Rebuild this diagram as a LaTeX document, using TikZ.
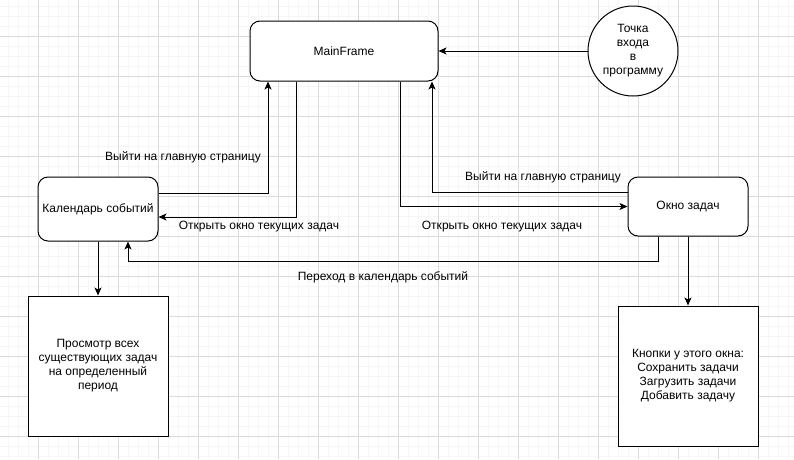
\documentclass[tikz,border=0pt]{standalone}
\usepackage{fontspec}
\setmainfont{Liberation Sans}
\usetikzlibrary{arrows.meta}
\tikzstyle{window} = [
  draw=black,
  fill=white,
  line width=1pt,
  rounded corners=10pt,
  align=center,
]
\tikzstyle{note} = [
  draw=black,
  fill=white,
  line width=1pt,
  minimum width=140pt,
  minimum height=140pt,
  align=center,
]
\tikzstyle{link} = [
  line width=1pt,
  -{Stealth[length=8pt,width=7pt,inset=2pt]},
]
\tikzstyle{gridminor} = [gray!7, line width=0.6pt]
\tikzstyle{gridmajor} = [gray!28, line width=0.8pt]

\begin{document}
\begin{tikzpicture}[
      x=1pt, y=-1pt,
      every node/.style={font=\fontsize{12}{14}\selectfont}
    ]
      \useasboundingbox (0,0) rectangle (794,459);
      \fill[white] (0,0) rectangle (794,459);

      % Grid
      \foreach \x in {8,18,...,788} \draw[gridminor] (\x,0) -- (\x,459);
      \foreach \y in {6,16,...,456} \draw[gridminor] (0,\y) -- (794,\y);
      \foreach \x in {38,78,...,778} \draw[gridmajor] (\x,0) -- (\x,459);
      \foreach \y in {36,76,...,436} \draw[gridmajor] (0,\y) -- (794,\y);

      % Windows
      \node[window, minimum width=188pt, minimum height=60pt] (main) at (344,51) {MainFrame};
      \node[window, minimum width=120pt, minimum height=64pt] (calendar) at (98,209) {Календарь событий};
      \node[window, minimum width=120pt, minimum height=59pt] (tasks) at (688,206.5) {Окно задач};
      \node[draw=black, fill=white, line width=1pt, circle, minimum size=90pt, inner sep=0pt, align=center] (entry) at (633,51) {Точка\\входа\\в\\программу};

      % Notes
      \node[note] (period) at (98,366) {Просмотр всех\\существующих задач\\на определенный\\период};
      \node[note] (buttons) at (688,376) {Кнопки у этого окна:\\Сохранить задачи\\Загрузить задачи\\Добавить задачу};

      % Links
      \draw[link] (entry.west) -- (main.east);
      \draw[link] ([yshift=16pt]calendar.east) -| ([xshift=-76pt]main.south);
      \draw[link] ([xshift=-48pt]main.south) |- ([yshift=-8pt]calendar.east);
      \draw[link] ([yshift=14.5pt]tasks.west) -| ([xshift=88pt]main.south);
      \draw[link] ([xshift=56pt]main.south) |- (tasks.west);
      \draw[link] ([xshift=-30pt]tasks.south) |- ([xshift=30pt,yshift=-20pt]calendar.south) -- ([xshift=30pt]calendar.south);
      \draw[link] (calendar.south) -- (period.north);
      \draw[link] (tasks.south) -- (buttons.north);

      % Labels
      \node (exitleft) at (183,157) {Выйти на главную страницу};
      \node (openleft) at (259,227) {Открыть окно текущих задач};
      \node (exitright) at (543,177) {Выйти на главную страницу};
      \node (openright) at (502,227) {Открыть окно текущих задач};
      \node (tocalendar) at (383,277) {Переход в календарь событий};
    \end{tikzpicture}
\end{document}
